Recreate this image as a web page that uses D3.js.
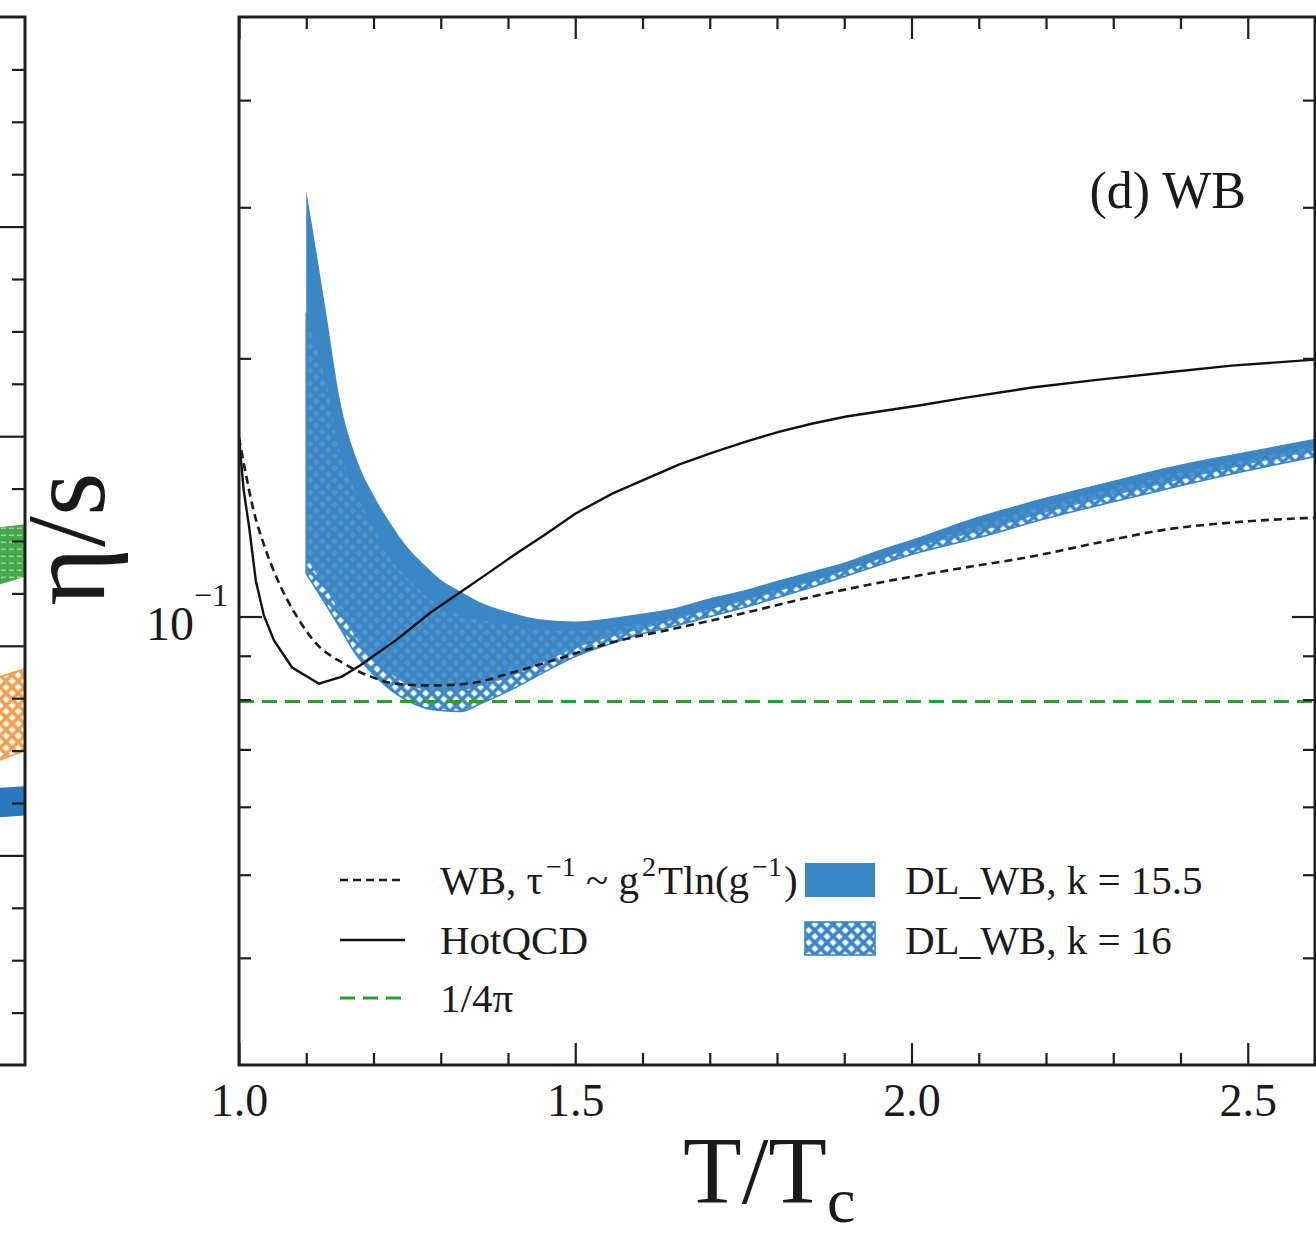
<!DOCTYPE html>
<html>
<head>
<meta charset="utf-8">
<script src="https://cdn.jsdelivr.net/npm/d3@7"></script>
<style>
  body { margin: 0; background: #fff; }
  svg { display: block; }
  text { font-family: "Liberation Serif", "Times New Roman", serif; fill: #1a1a1a; }
</style>
</head>
<body>
<svg id="chart" width="1316" height="1236"></svg>
<script>
// ---------------- data ----------------
// HotQCD eta/s
const hotqcdT = [1.000,1.007,1.015,1.025,1.037,1.052,1.079,1.119,1.153,1.180,1.233,1.285,1.322,1.365,1.408,1.457,1.500,1.555,1.606,1.655,1.704,1.755,1.804,1.853,1.903,1.952,2.011,2.081,2.179,2.279,2.378,2.476,2.600];
const hotqcdV = [0.1617,0.1403,0.1273,0.1101,0.1003,0.0938,0.0872,0.0835,0.0851,0.0877,0.0938,0.1011,0.1058,0.1116,0.1178,0.1249,0.1318,0.1391,0.1448,0.1504,0.1553,0.1600,0.1643,0.1679,0.1711,0.1734,0.1762,0.1800,0.1849,0.1889,0.1925,0.1961,0.1993];

// Weak-coupling (WB) estimate, tau^-1 ~ g^2 T ln(1/g)
const wbT = [1.000,1.010,1.021,1.037,1.058,1.085,1.116,1.153,1.196,1.233,1.285,1.339,1.408,1.457,1.555,1.655,1.755,1.853,1.952,2.081,2.179,2.279,2.378,2.476,2.600];
const wbV = [0.1617,0.1468,0.1336,0.1213,0.1101,0.1003,0.0928,0.0884,0.0851,0.0835,0.0831,0.0835,0.0861,0.0884,0.0933,0.0971,0.1011,0.1055,0.1095,0.1141,0.1175,0.1220,0.1263,0.1287,0.1304];

// KSS bound
const kssValue = 1 / (4 * Math.PI);

// DL_WB bands
const bandT = [1.100,1.115,1.130,1.150,1.175,1.200,1.225,1.250,1.275,1.300,1.330,1.360,1.400,1.450,1.500,1.550,1.600,1.650,1.700,1.750,1.800,1.850,1.900,1.950,2.000,2.100,2.200,2.300,2.400,2.500,2.600];
const k155Upper = [0.3137,0.2663,0.2249,0.1790,0.1525,0.1385,0.1285,0.1205,0.1150,0.1104,0.1069,0.1038,0.1013,0.0992,0.0987,0.0995,0.1008,0.1024,0.1050,0.1072,0.1101,0.1128,0.1156,0.1194,0.1229,0.1308,0.1376,0.1440,0.1504,0.1557,0.1612];
const k155Lower = [0.1172,0.1122,0.1075,0.1011,0.0943,0.0891,0.0858,0.0833,0.0822,0.0818,0.0820,0.0831,0.0849,0.0884,0.0918,0.0945,0.0968,0.0992,0.1019,0.1041,0.1069,0.1096,0.1131,0.1165,0.1200,0.1256,0.1322,0.1384,0.1444,0.1504,0.1561];
const k16Upper = [0.2262,0.2070,0.1889,0.1565,0.1398,0.1277,0.1172,0.1113,0.1066,0.1030,0.1005,0.0992,0.0981,0.0966,0.0963,0.0971,0.0984,0.1000,0.1024,0.1050,0.1078,0.1104,0.1134,0.1172,0.1207,0.1284,0.1351,0.1414,0.1476,0.1528,0.1582];
const k16Lower = [0.1122,0.1075,0.1030,0.0971,0.0901,0.0856,0.0822,0.0798,0.0783,0.0777,0.0775,0.0792,0.0818,0.0858,0.0898,0.0928,0.0955,0.0976,0.1000,0.1024,0.1052,0.1081,0.1113,0.1147,0.1181,0.1236,0.1301,0.1361,0.1421,0.1480,0.1536];

// neighbouring panel (c), right-hand end only
const panelCT = [2.55, 2.60];
const greenUpper = [0.256, 0.258], greenLower = [0.228, 0.233];
const orangeUpper = [0.184, 0.189], orangeLower = [0.144, 0.150];
const blueUpper = [0.132, 0.133], blueLower = [0.118, 0.119];

// ticks
const xMajor = [1.0, 1.5, 2.0, 2.5];
const xMinor = [1.1,1.2,1.3,1.4,1.6,1.7,1.8,1.9,2.1,2.2,2.3,2.4];
const yMajor = [0.1];
const yMinor = [0.04,0.05,0.06,0.07,0.08,0.09,0.2,0.3,0.4];
const cMajor = [0.1,0.2,0.3,0.4];
const cMinor = [0.025,0.05,0.075,0.125,0.15,0.175,0.225,0.25,0.275,0.325,0.35,0.375,0.425,0.45,0.475];

// ---------------- layout ----------------
const frame = { left: 239, right: 1315, top: 17, bottom: 1065 };
const BLUE = "#3b86c4";
const GREEN = "#2c9e30";
const INK = "#1e1e1e";

const svg = d3.select("#chart");
const defs = svg.append("defs");

const x = d3.scaleLinear().domain([1.0, 2.6]).range([frame.left, frame.right]);
const y = d3.scaleLog().domain([0.03, 0.5]).range([frame.bottom, frame.top]);

// left neighbour panel scales
const xc = d3.scaleLinear().domain([1.0, 2.6]).range([-1051, 25]);
const yc = d3.scaleLinear().domain([0, 0.5]).range([frame.bottom, frame.top]);

// ---------------- patterns ----------------
function crossHatch(id, color, tile, width, wash) {
  const p = defs.append("pattern").attr("id", id)
    .attr("patternUnits", "userSpaceOnUse")
    .attr("width", tile).attr("height", tile)
    .attr("patternTransform", "rotate(45)");
  p.append("rect").attr("width", tile).attr("height", tile)
    .attr("fill", "#fff").attr("fill-opacity", wash);
  p.append("path")
    .attr("d", `M0,${tile/2}H${tile}M${tile/2},0V${tile}`)
    .attr("stroke", color).attr("stroke-width", width).attr("fill", "none");
}
crossHatch("hatchBlue", BLUE, 8.6, 3.6, 0.12);
crossHatch("hatchOrange", "#f2a04e", 8.6, 3.6, 0.5);

const gp = defs.append("pattern").attr("id", "hatchGreen")
  .attr("patternUnits", "userSpaceOnUse").attr("width", 8).attr("height", 7);
gp.append("rect").attr("width", 8).attr("height", 7).attr("fill", "#45a84a");
gp.append("rect").attr("x", 1).attr("y", 2.5).attr("width", 5).attr("height", 1.6)
  .attr("fill", "#fff").attr("fill-opacity", 0.45);

defs.append("clipPath").attr("id", "plotClip").append("rect")
  .attr("x", frame.left).attr("y", frame.top)
  .attr("width", frame.right - frame.left).attr("height", frame.bottom - frame.top);
defs.append("clipPath").attr("id", "cClip").append("rect")
  .attr("x", 0).attr("y", frame.top).attr("width", 25).attr("height", frame.bottom - frame.top);

// ---------------- neighbour panel (c) ----------------
const gc = svg.append("g");
const cArea = (up, lo) => d3.area()
  .x((d, i) => xc(panelCT[i]))
  .y0((d, i) => yc(lo[i]))
  .y1((d, i) => yc(up[i]))(panelCT);
const gcClip = gc.append("g").attr("clip-path", "url(#cClip)");
gcClip.append("path").attr("d", cArea(greenUpper, greenLower)).attr("fill", "url(#hatchGreen)");
gcClip.append("path").attr("d", cArea(orangeUpper, orangeLower)).attr("fill", "url(#hatchOrange)")
  .attr("stroke", "#f2a04e").attr("stroke-width", 1.5);
gcClip.append("path").attr("d", cArea(blueUpper, blueLower)).attr("fill", "#2a78bd");

function styleAxis(g) {
  g.select(".domain").remove();
  g.selectAll(".tick line").attr("stroke", INK).attr("stroke-width", 2.2);
}
gc.append("g").attr("transform", `translate(25,0)`)
  .call(d3.axisRight(yc).tickValues(cMajor).tickSizeInner(-25).tickSizeOuter(0).tickFormat(""))
  .call(styleAxis);
gc.append("g").attr("transform", `translate(25,0)`)
  .call(d3.axisRight(yc).tickValues(cMinor).tickSizeInner(-13).tickSizeOuter(0).tickFormat(""))
  .call(styleAxis);
gc.append("path")
  .attr("d", `M0,${frame.top}H25V${frame.bottom}H0`)
  .attr("fill", "none").attr("stroke", INK).attr("stroke-width", 3);

// ---------------- main panel (d) ----------------
const plot = svg.append("g").attr("clip-path", "url(#plotClip)");

const band = (up, lo) => d3.area()
  .curve(d3.curveMonotoneX)
  .x((d, i) => x(bandT[i]))
  .y0((d, i) => y(lo[i]))
  .y1((d, i) => y(up[i]))(bandT);

plot.append("path").attr("d", band(k155Upper, k155Lower)).attr("fill", BLUE);
plot.append("path").attr("d", band(k16Upper, k16Lower))
  .attr("fill", "url(#hatchBlue)").attr("stroke", BLUE).attr("stroke-width", 1.6);

plot.append("path")
  .datum(d3.zip(hotqcdT, hotqcdV))
  .attr("d", d3.line().x(d => x(d[0])).y(d => y(d[1])))
  .attr("fill", "none").attr("stroke", "#111").attr("stroke-width", 2.4);

plot.append("path")
  .datum(d3.zip(wbT, wbV))
  .attr("d", d3.line().curve(d3.curveMonotoneX).x(d => x(d[0])).y(d => y(d[1])))
  .attr("fill", "none").attr("stroke", "#1c1c1c").attr("stroke-width", 2.6)
  .attr("stroke-dasharray", "8,5");

plot.append("path")
  .datum([1.0, 2.6])
  .attr("d", d3.line().x(d => x(d)).y(() => y(kssValue)))
  .attr("fill", "none").attr("stroke", GREEN).attr("stroke-width", 3)
  .attr("stroke-dasharray", "15,8");

// axes: ticks point inward on all four sides
const gx = svg.append("g").attr("transform", `translate(0,${frame.bottom})`)
  .call(d3.axisBottom(x).tickValues(xMajor).tickSizeInner(-22).tickSizeOuter(0)
        .tickPadding(18).tickFormat(d3.format(".1f")))
  .call(styleAxis);
gx.selectAll("text").attr("font-size", 46).attr("fill", "#1a1a1a")
  .attr("font-family", '"Liberation Serif", serif');
svg.append("g").attr("transform", `translate(0,${frame.bottom})`)
  .call(d3.axisBottom(x).tickValues(xMinor).tickSizeInner(-12).tickSizeOuter(0).tickFormat(""))
  .call(styleAxis);
svg.append("g").attr("transform", `translate(0,${frame.top})`)
  .call(d3.axisTop(x).tickValues(xMajor).tickSizeInner(-22).tickSizeOuter(0).tickFormat(""))
  .call(styleAxis);
svg.append("g").attr("transform", `translate(0,${frame.top})`)
  .call(d3.axisTop(x).tickValues(xMinor).tickSizeInner(-12).tickSizeOuter(0).tickFormat(""))
  .call(styleAxis);

svg.append("g").attr("transform", `translate(${frame.left},0)`)
  .call(d3.axisLeft(y).tickValues(yMajor).tickSizeInner(-23).tickSizeOuter(0).tickFormat(""))
  .call(styleAxis);
svg.append("g").attr("transform", `translate(${frame.left},0)`)
  .call(d3.axisLeft(y).tickValues(yMinor).tickSizeInner(-12).tickSizeOuter(0).tickFormat(""))
  .call(styleAxis);
svg.append("g").attr("transform", `translate(${frame.right},0)`)
  .call(d3.axisRight(y).tickValues(yMajor).tickSizeInner(-23).tickSizeOuter(0).tickFormat(""))
  .call(styleAxis);
svg.append("g").attr("transform", `translate(${frame.right},0)`)
  .call(d3.axisRight(y).tickValues(yMinor).tickSizeInner(-12).tickSizeOuter(0).tickFormat(""))
  .call(styleAxis);

svg.append("rect")
  .attr("x", frame.left).attr("y", frame.top)
  .attr("width", frame.right - frame.left).attr("height", frame.bottom - frame.top)
  .attr("fill", "none").attr("stroke", INK).attr("stroke-width", 3);

// y tick label 10^-1
yMajor.forEach(v => {
  const t = svg.append("text").attr("x", 228).attr("y", y(v) + 23)
    .attr("text-anchor", "end").attr("font-size", 48);
  t.append("tspan").text("10");
  t.append("tspan").attr("font-size", 32).attr("dy", -34).text("\u22121");
});

// axis titles
svg.append("text")
  .attr("transform", "translate(104,539) rotate(-90)")
  .attr("text-anchor", "middle").attr("font-size", 112)
  .text("\u03b7/s");

const xt = svg.append("text").attr("x", 683).attr("y", 1203).attr("font-size", 96);
xt.append("tspan").text("T/T");
xt.append("tspan").attr("font-size", 64).attr("dy", 19).text("c");

// panel tag
svg.append("text").attr("x", 1246).attr("y", 208)
  .attr("text-anchor", "end").attr("font-size", 52).text("(d) WB");

// ---------------- legend ----------------
const lg = svg.append("g");
const rows = [894, 954, 1012];
lg.append("line").attr("x1", 340).attr("x2", 405).attr("y1", 880).attr("y2", 880)
  .attr("stroke", "#1c1c1c").attr("stroke-width", 2.6).attr("stroke-dasharray", "8,5");
lg.append("line").attr("x1", 340).attr("x2", 405).attr("y1", 940).attr("y2", 940)
  .attr("stroke", "#111").attr("stroke-width", 2.4);
lg.append("line").attr("x1", 340).attr("x2", 405).attr("y1", 998).attr("y2", 998)
  .attr("stroke", GREEN).attr("stroke-width", 3).attr("stroke-dasharray", "15,8");

const t1 = lg.append("text").attr("x", 440).attr("y", rows[0]).attr("font-size", 41);
t1.append("tspan").text("WB, \u03c4");
t1.append("tspan").attr("font-size", 28).attr("dy", -18).attr("dx", 3).text("\u22121");
t1.append("tspan").attr("dy", 18).text(" ~ g");
t1.append("tspan").attr("font-size", 28).attr("dy", -18).attr("dx", 3).text("2");
t1.append("tspan").attr("dy", 18).attr("dx", 2).text("Tln(g");
t1.append("tspan").attr("font-size", 28).attr("dy", -18).attr("dx", 3).text("\u22121");
t1.append("tspan").attr("dy", 18).attr("dx", 2).text(")");
lg.append("text").attr("x", 440).attr("y", rows[1]).attr("font-size", 41).text("HotQCD");
lg.append("text").attr("x", 440).attr("y", rows[2]).attr("font-size", 41).text("1/4\u03c0");

lg.append("rect").attr("x", 805).attr("y", 863).attr("width", 70).attr("height", 34)
  .attr("fill", BLUE);
lg.append("rect").attr("x", 805).attr("y", 922).attr("width", 70).attr("height", 33)
  .attr("fill", "url(#hatchBlue)").attr("stroke", BLUE).attr("stroke-width", 1.6);
lg.append("text").attr("x", 905).attr("y", rows[0]).attr("font-size", 41).text("DL_WB, k = 15.5");
lg.append("text").attr("x", 905).attr("y", rows[1]).attr("font-size", 41).text("DL_WB, k = 16");
</script>
</body>
</html>
